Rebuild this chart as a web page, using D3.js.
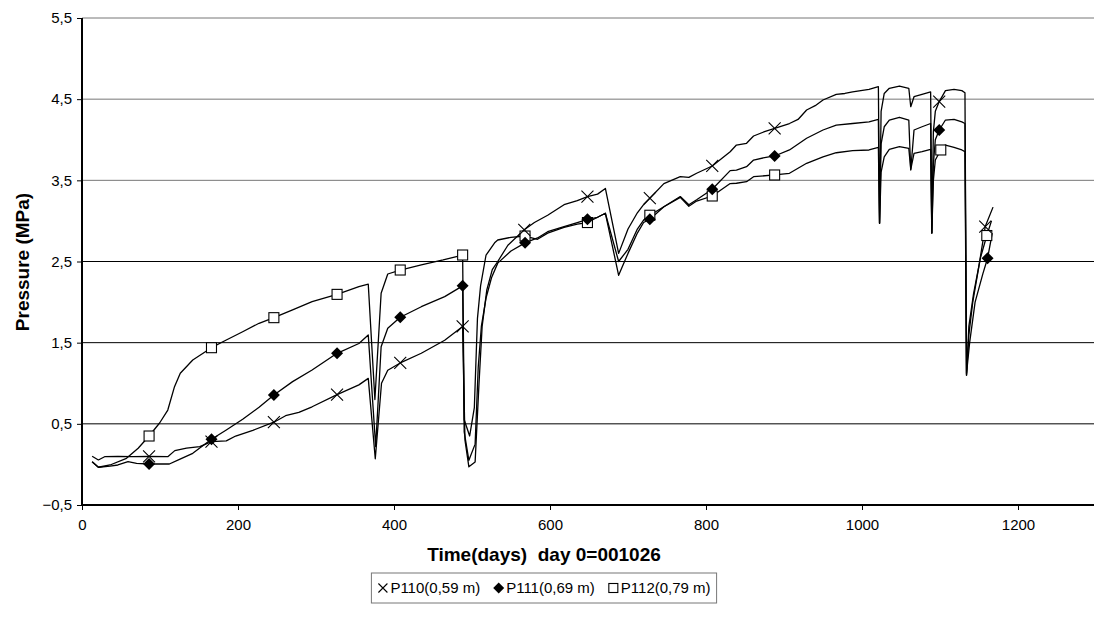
<!DOCTYPE html>
<html><head><meta charset="utf-8">
<script src="https://cdn.jsdelivr.net/npm/d3@7"></script>
<style>body{margin:0;background:#fff;overflow:hidden} text{font-family:"Liberation Sans",Arial,Helvetica,sans-serif;fill:#000}</style>
</head><body><svg id="c" width="1094" height="623"></svg>
<script>
const xTicks=[0,200,400,600,800,1000,1200];
const yTicks=[-0.5,0.5,1.5,2.5,3.5,4.5,5.5];
const seriesNames=["P110(0,59 m)","P111(0,69 m)","P112(0,79 m)"];

const p110=[[13,0.10],[21,0.055],[29,0.095],[46,0.10],[65,0.095],[86,0.10],[110,0.095],[119,0.17],[134,0.20],[151,0.22],[166,0.28],[185,0.29],[197,0.35],[219,0.42],[246,0.52],[261,0.60],[278,0.64],[295,0.71],[327,0.86],[355,0.98],[367,1.06],[376,0.07],[384,1.00],[392,1.16],[408,1.25],[435,1.37],[465,1.53],[488,1.70],[491,0.30],[496,-0.03],[504,0.03],[509,1.00],[513,1.70],[519,2.15],[526,2.40],[533,2.50],[546,2.70],[567,2.89],[580,2.98],[597,3.07],[618,3.20],[635,3.25],[648,3.30],[661,3.33],[671,3.40],[688,2.60],[700,2.90],[712,3.10],[720,3.20],[728,3.28],[746,3.46],[767,3.545],[778,3.537],[788,3.587],[808,3.677],[831,3.853],[839,3.935],[852,3.956],[861,4.046],[875,4.10],[888,4.14],[907,4.20],[918,4.25],[929,4.367],[940,4.42],[950,4.49],[967,4.56],[978,4.57],[988,4.59],[1009,4.62],[1021,4.654],[1022.5,2.97],[1024.5,4.35],[1028.5,4.57],[1035,4.634],[1048,4.662],[1060,4.634],[1062.5,4.407],[1066.7,4.53],[1077,4.56],[1088,4.59],[1089.5,2.85],[1091.5,4.1],[1094,4.35],[1099,4.47],[1107,4.605],[1118,4.62],[1128,4.605],[1132,4.58],[1134,1.10],[1137,1.60],[1142,2.00],[1150,2.45],[1158,2.93],[1168,3.17]];

const p111=[[13,0.034],[21,-0.035],[36,-0.02],[46,-0.007],[59,0.034],[70,0.014],[86,0.005],[100,0.005],[112,0.005],[125,0.063],[142,0.137],[166,0.31],[185,0.424],[206,0.556],[227,0.704],[246,0.855],[270,1.02],[295,1.163],[327,1.369],[355,1.49],[367,1.595],[376.5,0.22],[383.5,1.45],[392,1.677],[408,1.813],[435,1.943],[465,2.067],[488,2.20],[490,0.40],[496,0.05],[504,0.25],[508,1.2],[512,1.7],[518,2.05],[525,2.3],[533,2.48],[550,2.63],[568,2.73],[584,2.79],[597,2.867],[618,2.93],[635,2.98],[648,3.02],[661,3.045],[671,3.094],[688,2.33],[700,2.6],[712,2.85],[720,2.98],[728,3.02],[746,3.175],[767,3.3],[778,3.2],[788,3.26],[808,3.39],[831,3.62],[839,3.627],[852,3.668],[861,3.75],[875,3.78],[888,3.80],[907,3.874],[929,4.018],[950,4.12],[967,4.18],[988,4.20],[1009,4.22],[1021,4.25],[1022.5,2.97],[1024.5,3.95],[1028.5,4.16],[1035,4.243],[1048,4.277],[1060,4.243],[1062.5,3.627],[1066.7,4.12],[1077,4.16],[1088,4.20],[1089.5,2.85],[1091.5,3.7],[1094,4.0],[1099,4.12],[1107,4.243],[1118,4.25],[1128,4.22],[1132,4.20],[1134,1.12],[1138,1.5],[1145,2.0],[1155,2.35],[1161,2.54],[1167,2.85]];

const p112=[[13,0.034],[21,-0.035],[36,-0.007],[57,0.075],[72,0.199],[86,0.35],[99.5,0.51],[110,0.67],[118.6,0.958],[126,1.123],[142,1.287],[166,1.438],[185,1.533],[206,1.635],[227,1.739],[246,1.808],[270,1.903],[295,2.005],[327,2.095],[355,2.19],[367,2.22],[375.5,0.80],[383.5,2.108],[392,2.346],[408,2.395],[435,2.457],[463,2.519],[488,2.58],[490,0.55],[497,0.35],[503,0.7],[507,1.8],[511,2.2],[518,2.58],[529,2.73],[533,2.765],[550,2.798],[568,2.814],[584,2.774],[597,2.85],[618,2.92],[635,2.96],[648,2.98],[661,3.045],[671,3.094],[688,2.5],[700,2.65],[712,2.9],[720,3.01],[728,3.07],[746,3.175],[767,3.29],[778,3.18],[788,3.245],[808,3.307],[831,3.46],[839,3.464],[852,3.483],[861,3.545],[888,3.566],[907,3.587],[929,3.71],[950,3.79],[967,3.84],[988,3.865],[1009,3.874],[1021,3.907],[1022.5,2.97],[1024.5,3.6],[1028.5,3.79],[1035,3.882],[1048,3.915],[1060,3.894],[1062.5,3.636],[1066.7,3.833],[1077,3.853],[1088,3.882],[1089.5,2.85],[1091.5,3.5],[1094,3.75],[1101,3.874],[1107,3.935],[1118,3.907],[1128,3.874],[1132,3.853],[1134,1.10],[1137,1.7],[1143,2.1],[1152,2.55],[1160,2.82],[1166,3.0]];

const p110Markers=[[86,0.10],[166,0.28],[246,0.52],[327,0.86],[408,1.25],[488,1.70],[567,2.89],[648,3.30],[728,3.28],[808,3.677],[888,4.14],[1099,4.47],[1158,2.93]];
const p111Markers=[[86,0.005],[166,0.31],[246,0.855],[327,1.369],[408,1.813],[488,2.20],[568,2.73],[648,3.02],[728,3.02],[808,3.39],[888,3.80],[1099,4.12],[1161,2.54]];
const p112Markers=[[86,0.35],[166,1.438],[246,1.808],[327,2.095],[408,2.395],[488,2.58],[568,2.814],[648,2.98],[728,3.07],[808,3.307],[888,3.566],[1101,3.874],[1160,2.82]];

const svg=d3.select("#c");
const x=d3.scaleLinear().domain([0,1400]).range([82,82+1400*0.78]);
const y=d3.scaleLinear().domain([-0.5,5.5]).range([505,18]);
const fmt=v=>d3.format(".1f")(v).replace(".",",");

// gridlines
svg.append("g").selectAll("line").data(yTicks.filter(t=>t>-0.5)).join("line")
  .attr("x1",82).attr("x2",1094).attr("y1",d=>y(d)).attr("y2",d=>y(d))
  .attr("stroke",d=>d>=3.5?"#777":"#000").attr("stroke-width",1);

// y axis
const ya=svg.append("g").attr("transform","translate(82,0)").call(d3.axisLeft(y).tickValues(yTicks).tickSize(5).tickPadding(5).tickFormat(fmt));
ya.select(".domain").remove();
ya.selectAll("text").attr("font-size",15).attr("font-family","Liberation Sans, Arial, sans-serif");
svg.append("line").attr("x1",82).attr("x2",82).attr("y1",18).attr("y2",506).attr("stroke","#000").attr("stroke-width",2);

// x axis
const xa=svg.append("g").attr("transform","translate(0,505)").call(d3.axisBottom(x).tickValues(xTicks).tickSize(5).tickPadding(9).tickFormat(d3.format("d")));
xa.select(".domain").remove();
xa.selectAll("text").attr("font-size",15).attr("font-family","Liberation Sans, Arial, sans-serif");
svg.append("line").attr("x1",81).attr("x2",1094).attr("y1",505).attr("y2",505).attr("stroke","#000").attr("stroke-width",2);

// lines
const line=d3.line().x(d=>x(d[0])).y(d=>y(d[1]));
const plot=svg.append("g");
[p110,p111,p112].forEach(s=>{
  plot.append("path").datum(s).attr("d",line).attr("fill","none").attr("stroke","#000").attr("stroke-width",1.3).attr("stroke-linejoin","round");
});

// markers
function drawX(g,cx,cy,r){g.append("path").attr("d",`M${cx-r},${cy-r}L${cx+r},${cy+r}M${cx-r},${cy+r}L${cx+r},${cy-r}`).attr("stroke","#000").attr("stroke-width",1.1).attr("fill","none");}
function drawD(g,cx,cy,r){g.append("path").attr("d",`M${cx},${cy-r}L${cx+r},${cy}L${cx},${cy+r}L${cx-r},${cy}Z`).attr("fill","#000");}
function drawS(g,cx,cy,r){g.append("rect").attr("x",cx-r).attr("y",cy-r).attr("width",2*r).attr("height",2*r).attr("fill","#fff").attr("stroke","#000").attr("stroke-width",1.1);}
const mg=svg.append("g");
p112Markers.forEach(d=>drawS(mg,x(d[0]),y(d[1]),5));
p111Markers.forEach(d=>drawD(mg,x(d[0]),y(d[1]),6));
p110Markers.forEach(d=>drawX(mg,x(d[0]),y(d[1]),6));

// titles
svg.append("text").attr("transform","translate(29,262) rotate(-90)").attr("text-anchor","middle")
  .attr("font-size",19).attr("font-weight","bold").text("Pressure (MPa)");
svg.append("text").attr("x",544).attr("y",561).attr("text-anchor","middle")
  .attr("font-size",19).attr("font-weight","bold").style("white-space","pre").text("Time(days)  day 0=001026");

// legend
const lg=svg.append("g");
const items=lg.selectAll("g").data(seriesNames).join("g");
items.append("text").attr("font-size",15).attr("y",593).text(d=>d);
const widths=[];
items.each(function(){widths.push(this.getBBox().width);});
const sym=13, gap=13, pad=6;
const total=widths.reduce((a,b)=>a+b,0)+3*sym+2*gap+2*pad;
const lx0=544-total/2;
let cur=lx0+pad;
items.each(function(d,i){
  const g=d3.select(this);
  const sx=cur+5.5, sy=588;
  if(i===0) drawX(g,sx,sy,4.5);
  if(i===1) drawD(g,sx,sy,5.5);
  if(i===2) drawS(g,sx,sy,4.5);
  g.select("text").attr("x",cur+sym);
  cur+=sym+widths[i]+gap;
});
lg.insert("rect",":first-child").attr("x",lx0).attr("y",573).attr("width",total).attr("height",30)
  .attr("fill","#fff").attr("stroke","#777").attr("stroke-width",1);
</script></body></html>
